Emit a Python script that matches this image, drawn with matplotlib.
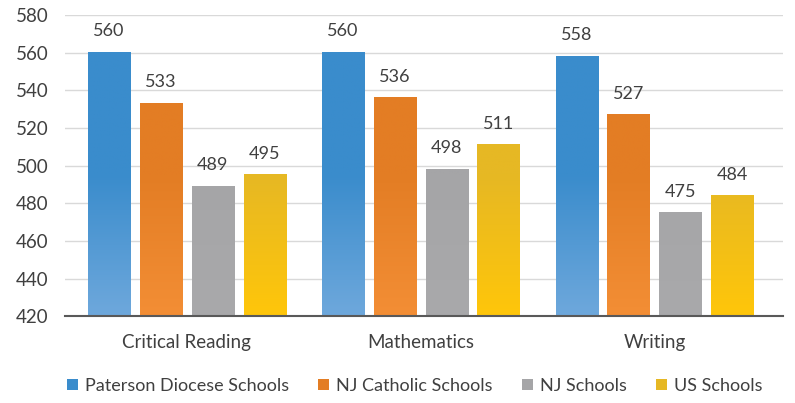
import numpy as np
import matplotlib.pyplot as plt
from matplotlib.colors import LinearSegmentedColormap

plt.rcParams['font.family'] = ['Lato', 'DejaVu Sans']

categories = ['Critical Reading', 'Mathematics', 'Writing']
series = ['Paterson Diocese Schools', 'NJ Catholic Schools', 'NJ Schools', 'US Schools']
paterson = [560, 560, 558]
nj_catholic = [533, 536, 527]
nj_schools = [489, 498, 475]
us_schools = [495, 511, 484]
values = [paterson, nj_catholic, nj_schools, us_schools]

# top colour, bottom colour
colors_top = ['#3A8CCC', '#E37D24', '#A5A5A7', '#E6B824']
colors_bot = ['#6EA8DC', '#F38E35', '#A9A9AB', '#FFC60A']

fig, ax = plt.subplots(figsize=(7.95, 4.03), dpi=100)
fig.subplots_adjust(left=0.082, right=0.985, top=0.963, bottom=0.215)

ymin, ymax = 420, 580
width = 0.18
step = 0.222
x = np.arange(len(categories))

for i, vals in enumerate(values):
    xs = x + (i - 1.5) * step
    cmap = LinearSegmentedColormap.from_list('g', [colors_bot[i], colors_top[i]])
    for xi, v in zip(xs, vals):
        yy = np.linspace(ymin, v, 200)
        grad = np.clip((yy - ymin) / 75.0, 0, 1).reshape(-1, 1)
        ax.imshow(grad, extent=(xi - width / 2, xi + width / 2, ymin, v), origin='lower',
                  cmap=cmap, aspect='auto', zorder=2, vmin=0, vmax=1)
        ax.text(xi, v + 7, str(v), ha='center', va='bottom', fontsize=13, color='#404040')
    ax.bar(xs, [0] * len(vals), width, bottom=ymin, color=colors_top[i], label=series[i])

ax.set_xlim(-0.52, 2.55)
ax.set_ylim(ymin, ymax)
ax.set_yticks(range(420, 581, 20))
ax.set_xticks(x)
ax.set_xticklabels(categories)
ax.tick_params(axis='both', length=0, labelsize=13.5, colors='#404040')
ax.tick_params(axis='x', pad=13)
ax.tick_params(axis='y', pad=12)
ax.grid(axis='y', color='#D9D9D9', linewidth=1, zorder=0)
ax.set_axisbelow(True)
for s in ['top', 'right', 'left']:
    ax.spines[s].set_visible(False)
ax.spines['bottom'].set_color('#595959')
ax.spines['bottom'].set_linewidth(1.5)

ax.legend(loc='upper center', bbox_to_anchor=(0.487, -0.15), ncol=4, frameon=False,
          fontsize=13, handlelength=0.6, handleheight=0.6, handletextpad=0.4,
          columnspacing=1.6, labelcolor='#404040')

fig.savefig('out.png')
